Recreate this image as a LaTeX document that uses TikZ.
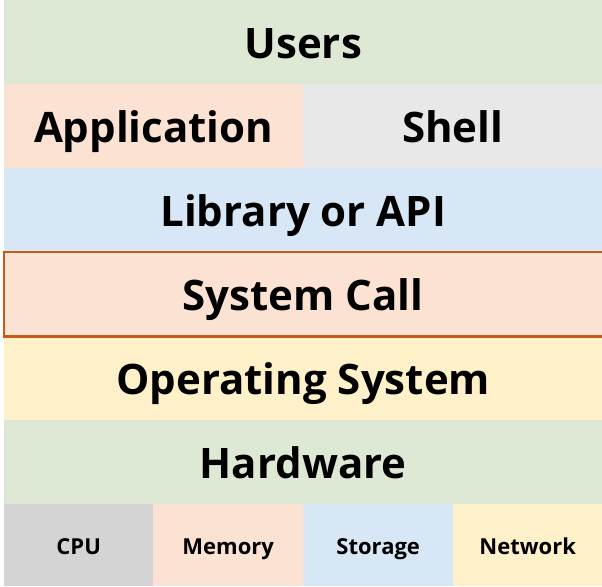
\documentclass[tikz,border=0pt]{standalone}
\usepackage{fontspec}
\setmainfont{Open Sans}
\usetikzlibrary{positioning}

\definecolor{usergreen}{HTML}{DDE9D5}
\definecolor{apppeach}{HTML}{FCE2D3}
\definecolor{shellgrey}{HTML}{E8E8E8}
\definecolor{libblue}{HTML}{D8E7F6}
\definecolor{osyellow}{HTML}{FEF0C8}
\definecolor{cpugrey}{HTML}{D4D4D4}
\definecolor{callorange}{HTML}{C55A1A}

\begin{document}
\begin{tikzpicture}[x=1pt,y=-1pt,
  layer/.style={fill=#1, inner sep=0pt, anchor=north west, minimum height=84pt,
    text height=38pt, text depth=6pt,
    font=\bfseries\fontsize{42}{50}\selectfont},
  hwpart/.style={fill=#1, inner sep=0pt, anchor=north west, minimum height=82pt,
    minimum width=150pt, text height=20pt, text depth=2pt,
    font=\bfseries\fontsize{22}{26}\selectfont}]
\useasboundingbox[fill=white] (0,0) rectangle (602,586);
% top of the stack
\node[layer=usergreen, minimum width=598pt] (users) at (4,0) {Users};
\node[layer=apppeach, minimum width=299pt] (app) at (4,84) {Application};
\node[layer=shellgrey, minimum width=299pt] (shell) at (303,84) {Shell};
\node[layer=libblue, minimum width=598pt] (lib) at (4,168) {Library or API};
\node[layer=apppeach, minimum width=598pt] (syscall) at (4,252) {System Call};
\node[layer=osyellow, minimum width=598pt] (os) at (4,336) {Operating System};
\node[layer=usergreen, minimum width=598pt] (hw) at (4,420) {Hardware};
% hardware parts
\node[hwpart=cpugrey, minimum width=149pt] (cpu) at (4,504) {CPU};
\node[hwpart=apppeach] (mem) at (153,504) {Memory};
\node[hwpart=libblue] (disk) at (303,504) {Storage};
\node[hwpart=osyellow, minimum width=149pt] (net) at (453,504) {Network};
% outline of the system call layer
\draw[callorange, line width=2.5pt] (syscall.north east) -- (syscall.north west)
  -- (syscall.south west) -- (syscall.south east);
\end{tikzpicture}
\end{document}
